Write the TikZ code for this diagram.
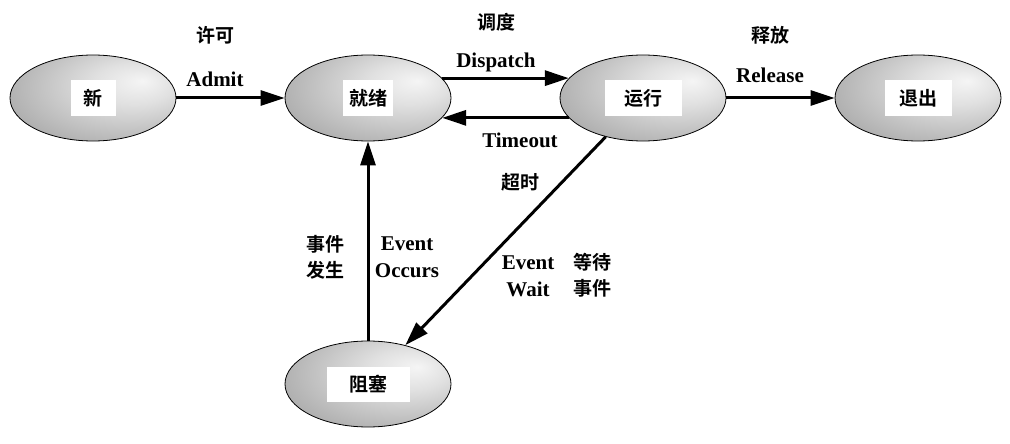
\documentclass[tikz,border=0pt]{standalone}
\usepackage{fontspec}
\setmainfont{Liberation Serif}
\newfontfamily\cjk{Noto Sans CJK SC}[BoldFont={Noto Sans CJK SC Bold}]
\usetikzlibrary{arrows.meta,positioning,shapes.geometric}

\pgfdeclareradialshading{stateball}{\pgfpoint{15bp}{10bp}}{%
 color(0bp)=(black!4); color(12bp)=(black!12); color(35bp)=(black!32); color(52bp)=(black!52); color(70bp)=(black!60)}

\begin{document}
\begin{tikzpicture}[x=1pt,y=-1pt,node distance=275pt,on grid,
 state/.style={ellipse,draw=black,line width=0.8pt,shade,shading=stateball,
  minimum width=166pt,minimum height=86pt,inner sep=0pt},
 tag/.style={fill=white,inner sep=0pt,minimum height=35pt,minimum width=#1,
  font=\cjk\bfseries\fontsize{19}{21}\selectfont},
 flow/.style={-{Triangle[length=24pt,width=15pt]},line width=3pt},
 en/.style={font=\bfseries\fontsize{21}{27}\selectfont,align=center},
 zh/.style={font=\cjk\bfseries\fontsize{19}{26}\selectfont,align=center}]
\useasboundingbox (0,0) rectangle (1010,444);
\node[state,label={[tag=45pt]center:新}] (new) at (93,98) {};
\node[state,label={[tag=50pt]center:就绪},right=of new] (ready) {};
\node[state,label={[tag=77pt]center:运行},right=of ready] (running) {};
\node[state,label={[tag=67pt]center:退出},right=of running] (exit) {};
\node[state,label={[tag=83pt]center:阻塞},below=286pt of ready] (blocked) {};
\draw[flow] (new) -- (ready);
\draw[flow] (ready.15) -- (running.165);
\draw[flow] (running.195) -- (ready.-15);
\draw[flow] (running) -- (exit);
\draw[flow] (blocked) -- (ready);
\draw[flow] (running) -- (blocked);
% labels
\node[zh] (admitzh) at (215,35) {许可};
\node[en] (admit) at (215,79) {Admit};
\node[zh] (dispatchzh) at (496,22) {调度};
\node[en] (dispatch) at (496,62) {Dispatch};
\node[en] (timeout) at (520,140) {Timeout};
\node[zh] (timeoutzh) at (520,182) {超时};
\node[zh] (releasezh) at (770,35) {释放};
\node[en] (release) at (770,75) {Release};
\node[zh] (occurszh) at (325,257) {事件\\发生};
\node[en] (occurs) at (407,257) {Event\\Occurs};
\node[en] (wait) at (528,276) {Event\\Wait};
\node[zh] (waitzh) at (592,275) {等待\\事件};
\end{tikzpicture}
\end{document}
